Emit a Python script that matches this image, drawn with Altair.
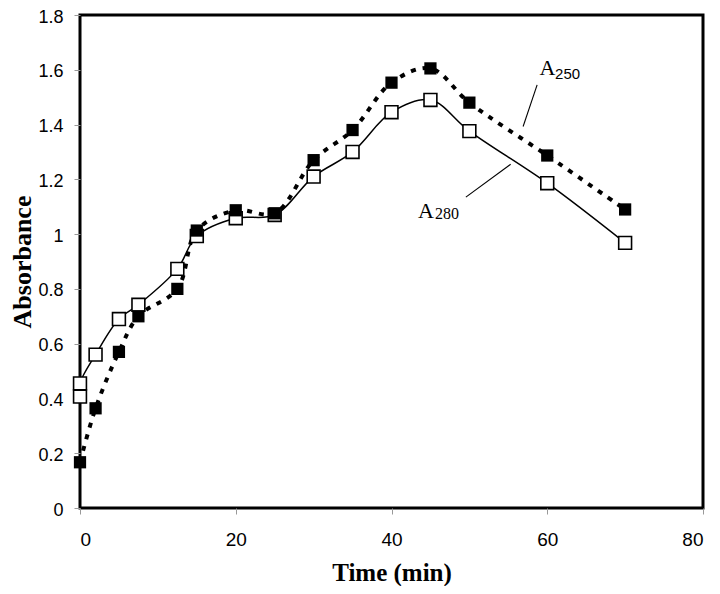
import altair as alt
import pandas as pd

# A280 (open squares, solid smooth line)
t280 = [0, 0, 2, 5, 7.5, 12.5, 15, 20, 25, 30, 35, 40, 45, 50, 60, 70]
a280 = [0.407, 0.455, 0.56, 0.69, 0.742, 0.873, 0.993, 1.058, 1.07, 1.21, 1.30, 1.445, 1.49, 1.376, 1.186, 0.968]

# A250 (filled squares, dotted smooth line)
t250 = [0, 2, 5, 7.5, 12.5, 15, 20, 25, 30, 35, 40, 45, 50, 60, 70]
a250 = [0.167, 0.364, 0.57, 0.70, 0.80, 1.013, 1.087, 1.076, 1.27, 1.38, 1.553, 1.605, 1.48, 1.287, 1.09]

x_ticks = [0, 20, 40, 60, 80]
y_ticks = [0, 0.2, 0.4, 0.6, 0.8, 1.0, 1.2, 1.4, 1.6, 1.8]

# annotation labels (data units)
lab_text = ["A", "250", "A", "280"]
lab_x = [59.0, 61.0, 43.4, 45.6]
lab_y = [1.582, 1.567, 1.060, 1.055]
lab_font = ["Liberation Serif", "Liberation Sans", "Liberation Serif", "Liberation Serif"]
lab_size = [22, 15, 22, 16]

# leader lines (data units)
lead_x = [58.7, 49.55]
lead_y = [1.545, 1.135]
lead_x2 = [56.9, 55.3]
lead_y2 = [1.393, 1.255]

d280 = pd.DataFrame({"t": t280, "a": a280, "o": list(range(len(t280)))})
d250 = pd.DataFrame({"t": t250, "a": a250, "o": list(range(len(t250)))})
dlab = pd.DataFrame({"text": lab_text, "x": lab_x, "y": lab_y})
dlead = pd.DataFrame({"x": lead_x, "y": lead_y, "x2": lead_x2, "y2": lead_y2})

xscale = alt.Scale(domain=[0, 80], nice=False, zero=False)
yscale = alt.Scale(domain=[0, 1.8], nice=False)

xaxis = alt.Axis(values=x_ticks, title="Time (min)", grid=False, domain=False,
                 tickSize=6, tickColor="#999", tickWidth=1,
                 labelFont="Liberation Sans", labelFontSize=19, labelColor="black",
                 labelPadding=16, titleFont="Liberation Serif", titleFontSize=25,
                 titleFontWeight="bold", titleColor="black", titlePadding=11)
yaxis = alt.Axis(values=y_ticks, title="Absorbance", grid=False, domain=False,
                 tickSize=6, tickColor="#999", tickWidth=1, format="~g",
                 labelFont="Liberation Sans", labelFontSize=18, labelColor="black",
                 labelPadding=11, labelOffset=2,
                 titleFont="Liberation Serif", titleFontSize=26,
                 titleFontWeight="bold", titleColor="black", titlePadding=2)

base280 = alt.Chart(d280).encode(
    x=alt.X("t:Q", scale=xscale, axis=xaxis),
    y=alt.Y("a:Q", scale=yscale, axis=yaxis),
    order="o:Q",
)
base250 = alt.Chart(d250).encode(
    x=alt.X("t:Q", scale=xscale),
    y=alt.Y("a:Q", scale=yscale),
    order="o:Q",
)

line280 = base280.mark_line(color="black", strokeWidth=1.5, interpolate="catmull-rom")
line250 = base250.mark_line(color="black", strokeWidth=4, strokeDash=[5, 7],
                            interpolate="catmull-rom")
pts280 = base280.mark_point(shape="square", size=165, filled=True, fill="white",
                            stroke="black", strokeWidth=1.6, opacity=1)
pts250 = base250.mark_point(shape="square", size=150, filled=True, color="black", opacity=1)

lab_layers = []
for i in range(len(lab_text)):
    sub = dlab.iloc[[i]]
    lab_layers.append(
        alt.Chart(sub).mark_text(align="left", baseline="alphabetic", color="black",
                                 font=lab_font[i], fontSize=lab_size[i]).encode(
            x=alt.X("x:Q", scale=xscale),
            y=alt.Y("y:Q", scale=yscale),
            text="text:N",
        )
    )

leaders = alt.Chart(dlead).mark_rule(color="black", strokeWidth=1.1).encode(
    x=alt.X("x:Q", scale=xscale),
    y=alt.Y("y:Q", scale=yscale),
    x2="x2:Q",
    y2="y2:Q",
)

chart = alt.layer(line280, line250, pts280, pts250, leaders, *lab_layers).properties(
    width=623, height=493,
    background="white",
    autosize=alt.AutoSizeParams(type="none"),
    padding={"left": 72, "top": 7, "right": 4, "bottom": 78},
).configure_view(stroke="black", strokeWidth=3)

chart.save("out.html", embed_options={"renderer": "svg", "actions": False})
